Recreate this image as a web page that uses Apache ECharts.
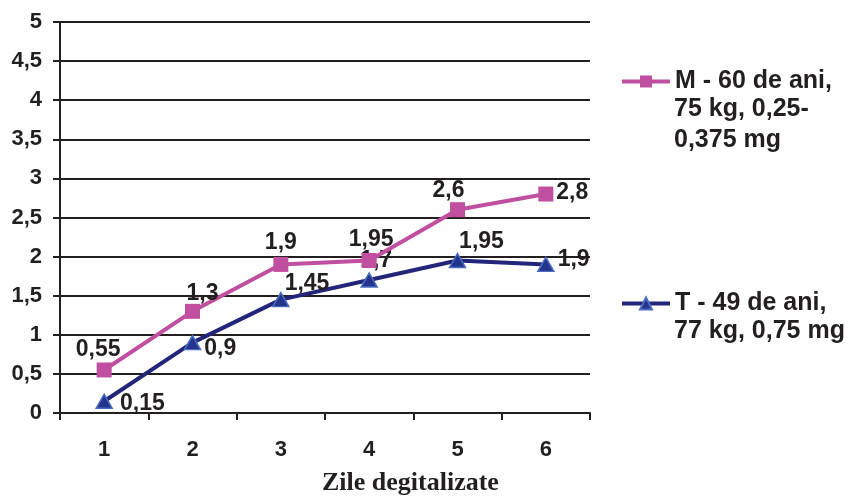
<!DOCTYPE html>
<html>
<head>
<meta charset="utf-8">
<script src="https://cdn.jsdelivr.net/npm/echarts@6/dist/echarts.min.js"></script>
<style>
  html, body { margin: 0; padding: 0; background: #fff; }
  #chart { width: 856px; height: 497px; }
</style>
</head>
<body>
<div id="chart"></div>
<script>
// Days on digitalis and measured values for two patients
const categories = ['1', '2', '3', '4', '5', '6'];
const seriesM = [0.55, 1.3, 1.9, 1.95, 2.6, 2.8];
const seriesT = [0.15, 0.9, 1.45, 1.7, 1.95, 1.9];
const legendM = ['M - 60 de ani,', '75 kg, 0,25-', '0,375 mg'];
const legendT = ['T - 49 de ani,', '77 kg, 0,75 mg'];
const yTicks = [0, 0.5, 1, 1.5, 2, 2.5, 3, 3.5, 4, 4.5, 5];
const xTitle = 'Zile degitalizate';

// label placement for each point (position, [dx, dy])
const placeM = [['top', [-6, 2]], ['top', [10, 4]], ['top', [0, 0]], ['top', [2, 1]], ['top', [-9, 3]], ['right', [0, -1]]];
const placeT = [['right', [4, 2]], ['right', [0, 6]], ['right', [-8, -16]], ['top', [7, 3]], ['top', [24, 3]], ['right', [0, -5]]];

const fmt = v => String(v).replace('.', ',');
const FONT = '"Liberation Sans", Arial, sans-serif';
const TXT = '#231f20';
const PINK = '#c0509f';
const NAVY = '#23257a';

const nameM = legendM.join(' ');
const nameT = legendT.join(' ');

function buildData(values, place) {
  return values.map((v, i) => ({
    value: v,
    label: { position: place[i][0], offset: place[i][1] }
  }));
}

const chart = echarts.init(document.getElementById('chart'), null, { renderer: 'canvas' });

const labelStyle = {
  show: true,
  formatter: p => fmt(p.value),
  fontFamily: FONT,
  fontWeight: 'bold',
  fontSize: 23,
  color: TXT,
  distance: 3
};

const legendText = { fontFamily: FONT, fontWeight: 'bold', fontSize: 25, color: TXT };
const LINE_H = 31;

// continuation lines of the legend entries, centred on firstY + n * LINE_H
function extraLines(lines, firstY) {
  return lines.slice(1).map((t, i) => ({
    type: 'text',
    left: 674,
    top: firstY + LINE_H * (i + 1) - 13,
    style: { text: t, font: 'bold 25px ' + FONT, fill: TXT }
  }));
}

chart.setOption({
  animation: false,
  backgroundColor: '#fff',
  grid: { left: 60, right: 266, top: 22, bottom: 84, containLabel: false },
  legend: [
    {
      data: [nameM],
      formatter: () => legendM[0],
      left: 615, top: 64,
      itemWidth: 48, itemHeight: 15,
      lineStyle: { width: 4 },
      textStyle: legendText,
      selectedMode: false
    },
    {
      data: [nameT],
      formatter: () => legendT[0],
      left: 615, top: 286,
      itemWidth: 48, itemHeight: 15,
      lineStyle: { width: 4 },
      textStyle: legendText,
      selectedMode: false
    }
  ],
  xAxis: {
    type: 'category',
    data: categories,
    boundaryGap: true,
    axisLine: { show: true, lineStyle: { color: TXT, width: 2 } },
    axisTick: { show: true, length: 7, alignWithLabel: false, lineStyle: { color: TXT, width: 2 } },
    axisLabel: { fontFamily: FONT, fontWeight: 'bold', fontSize: 22, color: TXT, margin: 26 },
    splitLine: { show: false }
  },
  yAxis: {
    type: 'value',
    min: yTicks[0], max: yTicks[yTicks.length - 1], interval: yTicks[1] - yTicks[0],
    axisLine: { show: true, lineStyle: { color: TXT, width: 2 } },
    axisTick: { show: true, length: 7, lineStyle: { color: TXT, width: 2 } },
    axisLabel: {
      fontFamily: FONT, fontWeight: 'bold', fontSize: 22, color: TXT, margin: 18,
      formatter: v => fmt(v)
    },
    splitLine: { show: true, lineStyle: { color: TXT, width: 2 } }
  },
  graphic: [
    {
      type: 'text',
      left: 322, top: 470,
      style: {
        text: xTitle,
        font: 'bold 26px "Liberation Serif", "Times New Roman", serif',
        fill: TXT
      }
    }
  ].concat(extraLines(legendM, 79), extraLines(legendT, 301)),
  series: [
    {
      name: nameM,
      type: 'line',
      data: buildData(seriesM, placeM),
      symbol: 'rect',
      symbolSize: 15,
      lineStyle: { color: PINK, width: 4 },
      itemStyle: { color: PINK, borderColor: PINK, borderWidth: 0 },
      label: labelStyle,
      z: 3
    },
    {
      name: nameT,
      type: 'line',
      data: buildData(seriesT, placeT),
      symbol: 'triangle',
      symbolSize: [16, 14],
      lineStyle: { color: NAVY, width: 4 },
      itemStyle: { color: '#24338c', borderColor: '#4a6cc0', borderWidth: 1.5 },
      label: labelStyle,
      z: 2
    }
  ]
});
</script>
</body>
</html>
